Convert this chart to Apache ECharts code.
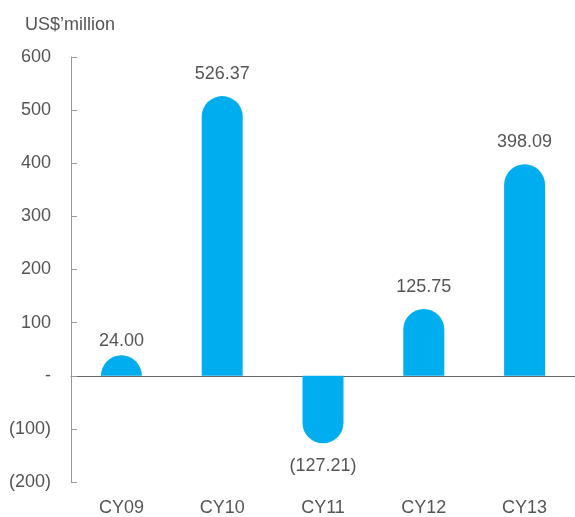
<!DOCTYPE html>
<html>
<head>
    <meta charset="utf-8">
    <script src="https://cdn.jsdelivr.net/npm/echarts@6/dist/echarts.min.js"></script>
    <style type="text/css">
        html, body { width: 100%; height: 100%; margin: 0; background: #fff; }
        #chart { width: 575px; height: 517px; }
    </style>
</head>
<body>
<div id="chart"></div>
<script type="text/javascript">
    // 数据
    var years = ['CY09', 'CY10', 'CY11', 'CY12', 'CY13'];
    var profit = [24.00, 526.37, -127.21, 125.75, 398.09];
    var yTicks = [-200, -100, 0, 100, 200, 300, 400, 500, 600];

    var FONT = '"Liberation Sans", Arial, sans-serif';
    var BLUE = '#00AEEF';
    var TEXT = '#555';

    function fmt(v) {
        if (v === 0) return '-';
        return v < 0 ? '(' + Math.abs(v).toFixed(2) + ')' : v.toFixed(2);
    }

    // 圆头柱子：高度至少等于半径
    function renderBar(params, api) {
        var idx = api.value(0);
        var val = api.value(1);
        var p = api.coord([idx, val]);
        var z = api.coord([idx, 0]);
        var w = 41, r = w / 2;
        var x = p[0] - r;
        var h = Math.max(Math.abs(z[1] - p[1]), r);
        var rect, label;
        if (val >= 0) {
            rect = { x: x, y: z[1] - h, width: w, height: h, r: [r, r, 0, 0] };
            label = { x: p[0], y: p[1] - 13, verticalAlign: 'bottom' };
        } else {
            rect = { x: x, y: z[1], width: w, height: h, r: [0, 0, r, r] };
            label = { x: p[0], y: p[1] + 14, verticalAlign: 'top' };
        }
        return {
            type: 'group',
            children: [
                { type: 'rect', shape: rect, style: { fill: BLUE } },
                {
                    type: 'text',
                    style: {
                        x: label.x, y: label.y, text: fmt(val),
                        align: 'center', verticalAlign: label.verticalAlign,
                        fill: TEXT, font: '18px ' + FONT
                    }
                }
            ]
        };
    }

    var myChart = echarts.init(document.getElementById('chart'));
    myChart.setOption({
        animation: false,
        title: {
            text: "US$\u2019million",
            left: 20, top: 11,
            textStyle: { color: TEXT, fontSize: 18, fontWeight: 'normal', fontFamily: FONT }
        },
        grid: { left: 71, right: 0, top: 57, bottom: 34 },
        xAxis: [{
            type: 'category',
            data: years,
            axisLine: { show: false, onZero: false },
            axisTick: { show: false },
            axisLabel: { color: TEXT, fontSize: 18, fontFamily: FONT, margin: 17 }
        }, {
            type: 'category',
            data: years,
            axisLine: { onZero: true, lineStyle: { color: '#666', width: 1.2 } },
            axisTick: { show: false },
            axisLabel: { show: false }
        }],
        yAxis: {
            type: 'value',
            min: yTicks[0],
            max: yTicks[yTicks.length - 1],
            interval: 100,
            splitLine: { show: false },
            axisLine: { show: true, lineStyle: { color: '#999' } },
            axisTick: { show: true, inside: true, length: 6, lineStyle: { color: '#999' } },
            axisLabel: {
                color: TEXT, fontSize: 18, fontFamily: FONT, margin: 20,
                formatter: function (v) {
                    if (v === 0) return '-';
                    return v < 0 ? '(' + Math.abs(v) + ')' : String(v);
                }
            }
        },
        series: [{
            type: 'custom',
            renderItem: renderBar,
            encode: { x: 0, y: 1 },
            data: profit.map(function (v, i) { return [i, v]; })
        }]
    });
</script>
</body>
</html>
